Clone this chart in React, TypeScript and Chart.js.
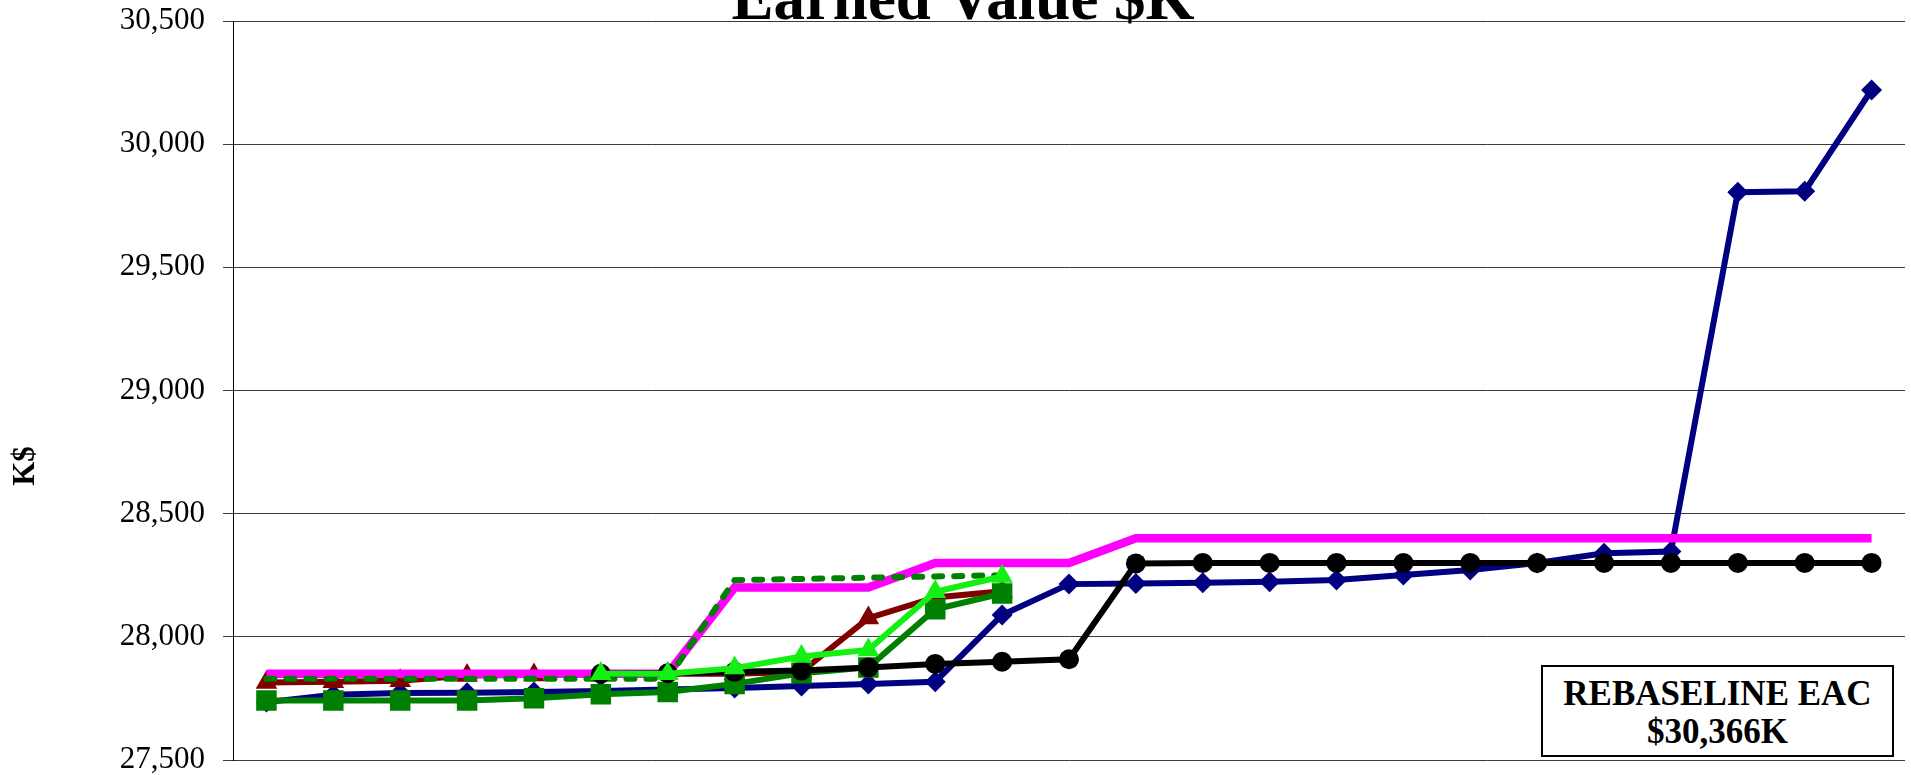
import React, { useEffect, useRef } from "react";
import { Chart, registerables } from "chart.js";

Chart.register(...registerables);

const TITLE = "Earned Value $K";
const Y_TITLE = "K$";
const NOTE_LINES = ["REBASELINE EAC", "$30,366K"];

const categories = [
  "1", "2", "3", "4", "5", "6", "7", "8", "9", "10", "11", "12", "13",
  "14", "15", "16", "17", "18", "19", "20", "21", "22", "23", "24", "25",
];

const yTicks = [27500, 28000, 28500, 29000, 29500, 30000, 30500];

const navySeries = [
  27735, 27765, 27772, 27773, 27776, 27780, 27786, 27792, 27800, 27809, 27818,
  28089, 28214, 28217, 28220, 28224, 28231, 28251, 28271, 28300, 28339, 28346,
  29805, 29809, 30220,
];

const blackSeries = [
  null, null, null, null, null, 27850, 27852, 27858, 27863, 27876, 27890, 27899,
  27909, 28298, 28300, 28300, 28300, 28300, 28300, 28300, 28300, 28300, 28300,
  28300, 28300,
];

const magentaSeries = [
  27850, 27850, 27850, 27850, 27850, 27850, 27850, 28200, 28200, 28200, 28300,
  28300, 28300, 28400, 28400, 28400, 28400, 28400, 28400, 28400, 28400, 28400,
  28400, 28400, 28400,
];

const dashedGreenSeries = [
  27830, 27830, 27830, 27830, 27830, 27830, 27830, 28230, 28235, 28240, 28245,
  28250, null, null, null, null, null, null, null, null, null, null, null, null,
  null,
];

const darkRedSeries = [
  27815, 27818, 27822, 27843, 27845, 27848, 27850, 27850, 27858, 28076, 28160,
  28185, null, null, null, null, null, null, null, null, null, null, null, null,
  null,
];

const darkGreenSeries = [
  27742, 27742, 27742, 27742, 27751, 27767, 27776, 27809, 27852, 27876, 28112,
  28176, null, null, null, null, null, null, null, null, null, null, null, null,
  null,
];

const brightGreenSeries = [
  null, null, null, null, null, 27850, 27850, 27873, 27920, 27947, 28183, 28245,
  null, null, null, null, null, null, null, null, null, null, null, null, null,
];

const SERIF = '"Liberation Serif", "Times New Roman", serif';

const overlayText = {
  id: "overlayText",
  afterDraw(chart: any) {
    const { ctx, chartArea } = chart;
    ctx.save();
    ctx.fillStyle = "#000";
    ctx.font = `bold 63px ${SERIF}`;
    ctx.textAlign = "center";
    ctx.textBaseline = "alphabetic";
    ctx.fillText(TITLE, 963, chartArea.top - 2);
    ctx.translate(26, 466);
    ctx.rotate(-Math.PI / 2);
    ctx.font = `bold 31px ${SERIF}`;
    ctx.textBaseline = "middle";
    ctx.fillText(Y_TITLE, 0, 0);
    ctx.restore();
  },
};

export default function App() {
  const ref = useRef<HTMLCanvasElement>(null);

  useEffect(() => {
    if (!ref.current) return;
    const chart = new Chart(ref.current, {
      type: "line",
      data: {
        labels: categories,
        datasets: [
          {
            label: "Series G",
            data: brightGreenSeries,
            borderColor: "#14F014",
            backgroundColor: "#14F014",
            borderWidth: 6,
            pointStyle: "triangle",
            pointRadius: 12.5,
            pointBorderWidth: 0,
            order: 0,
          },
          {
            label: "Series K",
            data: blackSeries,
            borderColor: "#000000",
            backgroundColor: "#000000",
            borderWidth: 6,
            pointStyle: "circle",
            pointRadius: 10,
            pointBorderWidth: 0,
            order: 1,
          },
          {
            label: "Series DG",
            data: darkGreenSeries,
            borderColor: "#008000",
            backgroundColor: "#008000",
            borderWidth: 6,
            pointStyle: "rect",
            pointRadius: 14.5,
            pointBorderWidth: 0,
            order: 2,
          },
          {
            label: "Series DGD",
            data: dashedGreenSeries,
            borderColor: "#008000",
            backgroundColor: "#008000",
            borderWidth: 6,
            borderDash: [8, 12],
            borderCapStyle: "round",
            pointRadius: 0,
            order: 3,
          },
          {
            label: "Series M",
            data: magentaSeries,
            borderColor: "#FF00FF",
            backgroundColor: "#FF00FF",
            borderWidth: 8.5,
            pointRadius: 0,
            order: 4,
          },
          {
            label: "Series R",
            data: darkRedSeries,
            borderColor: "#800000",
            backgroundColor: "#800000",
            borderWidth: 6,
            pointStyle: "triangle",
            pointRadius: 12.5,
            pointBorderWidth: 0,
            order: 5,
          },
          {
            label: "Series N",
            data: navySeries,
            borderColor: "#000080",
            backgroundColor: "#000080",
            borderWidth: 6,
            pointStyle: "rectRot",
            pointRadius: 10.5,
            pointBorderWidth: 0,
            order: 6,
          },
        ],
      },
      options: {
        responsive: false,
        animation: false,
        devicePixelRatio: 1,
        layout: {
          autoPadding: false,
          padding: { top: 21, right: 6, bottom: 15, left: 0 },
        },
        elements: { line: { tension: 0 } },
        plugins: {
          legend: { display: false },
          tooltip: { enabled: false },
          title: { display: false },
        },
        scales: {
          x: {
            type: "category",
            offset: true,
            display: false,
            grid: { display: false },
          },
          y: {
            min: yTicks[0],
            max: yTicks[yTicks.length - 1],
            afterBuildTicks: (scale: any) => {
              scale.ticks = yTicks.map((v) => ({ value: v }));
            },
            afterFit: (scale: any) => {
              scale.width = 233;
              scale.paddingTop = 0;
              scale.paddingBottom = 0;
            },
            ticks: {
              color: "#000",
              padding: 18,
              font: { family: SERIF, size: 31 },
            },
            grid: {
              color: "#3a3a3a",
              lineWidth: 1,
              drawTicks: true,
              tickLength: 10,
            },
            border: { display: true, color: "#000", width: 1 },
          },
        },
      },
      plugins: [overlayText],
    } as any);
    return () => chart.destroy();
  }, []);

  return (
    <div
      style={{
        position: "fixed",
        left: 0,
        top: 0,
        width: 1911,
        height: 775,
        overflow: "hidden",
        background: "#fff",
      }}
    >
      <canvas ref={ref} width={1911} height={775} style={{ display: "block" }} />
      <div
        style={{
          position: "absolute",
          left: 1541,
          top: 665,
          width: 353,
          height: 92,
          boxSizing: "border-box",
          border: "2px solid #000",
          background: "#fff",
          fontFamily: SERIF,
          fontWeight: "bold",
          fontSize: 35,
          lineHeight: "38px",
          textAlign: "center",
          paddingTop: 8,
          whiteSpace: "nowrap",
          color: "#000",
        }}
      >
        {NOTE_LINES[0]}
        <br />
        {NOTE_LINES[1]}
      </div>
    </div>
  );
}
